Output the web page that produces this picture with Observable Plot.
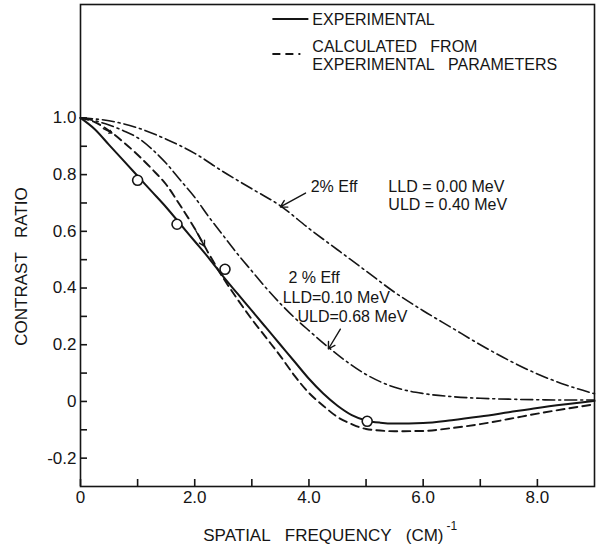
<!DOCTYPE html>
<html><head><meta charset="utf-8">
<script src="https://cdn.jsdelivr.net/npm/d3@7"></script>
<script src="https://cdn.jsdelivr.net/npm/@observablehq/plot@0.6"></script>
<style>
html,body{margin:0;padding:0;background:#fff;}
#chart svg{display:block;}
</style></head><body><div id="chart"></div>
<script>
// ---- tick definitions ----
const xMajor = [0, 2, 4, 6, 8];
const xMinor = [1, 3, 5, 7];
const xTickLabels = ["0", "2.0", "4.0", "6.0", "8.0"];
const yMajor = [-0.2, 0, 0.2, 0.4, 0.6, 0.8, 1.0];
const yMinor = [-0.1, 0.1, 0.3, 0.5, 0.7, 0.9];
const yTickLabels = ["-0.2", "0", "0.2", "0.4", "0.6", "0.8", "1.0"];

// ---- series (spatial frequency, contrast ratio) ----
const expFreq = [0,0.25,0.5,0.75,1,1.25,1.5,1.75,2,2.25,2.5,2.75,3,3.25,3.5,3.75,4,4.25,4.5,4.75,5,5.25,5.5,6,6.5,7,7.5,8,8.5,9];
const expContrast = [1.0,0.96,0.905,0.85,0.795,0.74,0.685,0.625,0.565,0.505,0.44,0.38,0.32,0.26,0.20,0.14,0.08,0.028,-0.015,-0.048,-0.067,-0.075,-0.078,-0.076,-0.066,-0.053,-0.038,-0.023,-0.01,0.002];

const calcFreq = [0,0.25,0.5,0.75,1,1.25,1.5,1.75,2,2.25,2.5,2.75,3,3.25,3.5,3.75,4,4.25,4.5,4.75,5,5.5,6,6.5,7,7.5,8,8.5,9];
const calcContrast = [1.0,0.985,0.955,0.915,0.87,0.82,0.765,0.69,0.61,0.52,0.435,0.36,0.29,0.225,0.16,0.09,0.03,-0.015,-0.055,-0.08,-0.097,-0.105,-0.104,-0.094,-0.08,-0.062,-0.043,-0.026,-0.01];

const eff040Freq = [0,0.5,1,1.5,2,2.5,3,3.5,4,4.5,5,5.5,6,6.5,7,7.5,8,8.5,9];
const eff040Contrast = [1.0,0.99,0.965,0.925,0.875,0.81,0.75,0.69,0.61,0.535,0.46,0.385,0.32,0.26,0.2,0.145,0.097,0.058,0.027];

const eff068Freq = [0,0.25,0.5,0.75,1,1.25,1.5,1.75,2,2.25,2.5,2.75,3,3.25,3.5,3.75,4,4.5,5,5.5,6,6.5,7,7.5,8,8.5,9];
const eff068Contrast = [1.0,0.99,0.975,0.955,0.93,0.89,0.84,0.78,0.72,0.65,0.585,0.52,0.46,0.4,0.345,0.295,0.25,0.165,0.095,0.05,0.028,0.017,0.011,0.008,0.006,0.005,0.005];

const pointFreq = [1.0, 1.69, 2.53, 5.02];
const pointContrast = [0.78, 0.625, 0.466, -0.07];

// ---- text ----
const gap = "\u00A0\u00A0 ";
const xTitle = ["SPATIAL", "FREQUENCY", "(CM)"].join(gap);
const xTitleSup = "-1";
const yTitle = ["CONTRAST", "RATIO"].join(gap);
const legendLabels = ["EXPERIMENTAL", ["CALCULATED", "FROM"].join(gap), ["EXPERIMENTAL", "PARAMETERS"].join(gap)];
const note1 = ["2% Eff", "LLD = 0.00 MeV", "ULD = 0.40 MeV"];
const note2 = ["2 % Eff", "LLD=0.10 MeV", "ULD=0.68 MeV"];

// build tables
const zip = (xs, ys) => xs.map((x, i) => ({x, y: ys[i]}));
const expData = zip(expFreq, expContrast);
const calcData = zip(calcFreq, calcContrast);
const eff040Data = zip(eff040Freq, eff040Contrast);
const eff068Data = zip(eff068Freq, eff068Contrast);
const pointData = zip(pointFreq, pointContrast);

const ink = "#151515";
const font = "'Liberation Sans', Arial, sans-serif";

// annotation anchor positions (data units)
const legendSolid = [{x1: 3.36, x2: 3.99, y: 1.349}];
const legendDashed = [{x1: 3.36, x2: 3.85, y: 1.225}];
const legendText = [
  {x: 4.06, y: 1.345, t: legendLabels[0]},
  {x: 4.06, y: 1.249, t: legendLabels[1]},
  {x: 4.06, y: 1.186, t: legendLabels[2]}
];
const noteText = [
  {x: 4.03, y: 0.756, t: note1[0]},
  {x: 5.39, y: 0.756, t: note1[1]},
  {x: 5.39, y: 0.693, t: note1[2]},
  {x: 3.64, y: 0.437, t: note2[0]},
  {x: 3.54, y: 0.366, t: note2[1]},
  {x: 3.80, y: 0.300, t: note2[2]}
];
const leaders = [
  {x1: 3.94, y1: 0.735, x2: 3.50, y2: 0.686},
  {x1: 4.55, y1: 0.255, x2: 4.34, y2: 0.185}
];
const curveArrows = [
  {x1: 0.40, y1: 0.962, x2: 0.55, y2: 0.947},
  {x1: 2.02, y1: 0.602, x2: 2.17, y2: 0.548}
];

const W = 597, H = 552, mL = 80, mR = 3, mT = 4, mB = 66;
const tickLen = 7;

const chart = Plot.plot({
  width: W, height: H,
  marginLeft: mL, marginRight: mR, marginTop: mT, marginBottom: mB,
  style: {fontFamily: font, fontSize: "17px", color: ink, background: "#fff"},
  x: {domain: [0, 9]},
  y: {domain: [-0.3, 1.4]},
  marks: [
    Plot.frame({stroke: ink, strokeWidth: 1.6}),
    // tick labels
    Plot.axisX(xMajor, {tickSize: 0, tickPadding: 4, tickFormat: d => xTickLabels[xMajor.indexOf(d)], fontSize: 17, label: null}),
    Plot.axisY(yMajor, {tickSize: 0, tickPadding: 4, tickFormat: d => yTickLabels[yMajor.indexOf(d)], fontSize: 17, label: null}),
    // inward tick marks
    Plot.tickX([...xMajor, ...xMinor], {x: d => d, insetTop: (H - mT - mB) - tickLen, stroke: ink, strokeWidth: 1.6}),
    Plot.tickY([...yMajor, ...yMinor], {y: d => d, insetRight: (W - mL - mR) - tickLen, stroke: ink, strokeWidth: 1.6}),
    // axis titles
    Plot.text([xTitle], {frameAnchor: "bottom", dx: 106, dy: 49, text: d => d, textAnchor: "end", lineAnchor: "middle", fontSize: 17, fill: ink}),
    Plot.text([xTitleSup], {frameAnchor: "bottom", dx: 109, dy: 40, text: d => d, textAnchor: "start", lineAnchor: "middle", fontSize: 12, fill: ink}),
    Plot.text([yTitle], {frameAnchor: "left", dx: -59, dy: 21, rotate: -90, text: d => d, textAnchor: "middle", lineAnchor: "middle", fontSize: 17, fill: ink}),
    // curves
    Plot.line(eff040Data, {x: "x", y: "y", stroke: ink, strokeWidth: 1.6, strokeDasharray: "12,4,2,4", curve: "monotone-x"}),
    Plot.line(eff068Data, {x: "x", y: "y", stroke: ink, strokeWidth: 1.6, strokeDasharray: "12,4,2,4", curve: "monotone-x"}),
    Plot.line(calcData, {x: "x", y: "y", stroke: ink, strokeWidth: 1.9, strokeDasharray: "8,5", curve: "monotone-x"}),
    Plot.line(expData, {x: "x", y: "y", stroke: ink, strokeWidth: 2, curve: "monotone-x"}),
    Plot.dot(pointData, {x: "x", y: "y", r: 5, stroke: ink, strokeWidth: 1.6, fill: "#fff"}),
    // small arrowheads on calculated curve
    Plot.arrow(curveArrows, {x1: "x1", y1: "y1", x2: "x2", y2: "y2", stroke: ink, strokeWidth: 1.4, headLength: 7}),
    // legend
    Plot.link(legendSolid, {x1: "x1", x2: "x2", y1: "y", y2: "y", stroke: ink, strokeWidth: 2}),
    Plot.link(legendDashed, {x1: "x1", x2: "x2", y1: "y", y2: "y", stroke: ink, strokeWidth: 2, strokeDasharray: "8,5"}),
    Plot.text(legendText, {x: "x", y: "y", text: "t", textAnchor: "start", fontSize: 16, fill: ink, style: "letter-spacing:0.6px"}),
    // annotations
    Plot.text(noteText, {x: "x", y: "y", text: "t", textAnchor: "start", fontSize: 16, fill: ink, style: "letter-spacing:0.4px"}),
    Plot.arrow(leaders, {x1: "x1", y1: "y1", x2: "x2", y2: "y2", stroke: ink, strokeWidth: 1.4, headLength: 8})
  ]
});
document.getElementById("chart").appendChild(chart);
</script>
</body></html>
